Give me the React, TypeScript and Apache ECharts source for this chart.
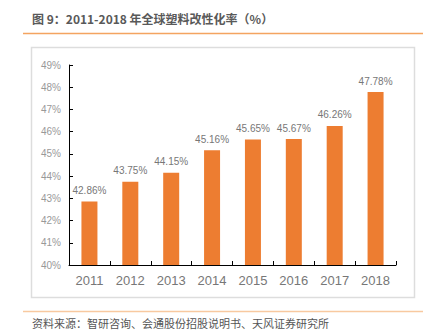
import React, { useEffect, useRef } from "react";
import * as echarts from "echarts";

const categories = ["2011", "2012", "2013", "2014", "2015", "2016", "2017", "2018"];
const values = [42.86, 43.75, 44.15, 45.16, 45.65, 45.67, 46.26, 47.78];
const titleText = "图 9：2011-2018 年全球塑料改性化率（%）";
const sourceText = "资料来源：智研咨询、会通股份招股说明书、天风证券研究所";

export default function App() {
  const ref = useRef<HTMLDivElement>(null);
  useEffect(() => {
    const chart = echarts.init(ref.current!, null, { renderer: "svg" });
    chart.setOption({
      animation: false,
      backgroundColor: "#fff",
      graphic: [
        { type: "text", left: 32, top: 12, style: { text: titleText, font: "bold 12px 'Noto Sans CJK SC', sans-serif", fill: "#595959" } },
        { type: "line", shape: { x1: 23, y1: 33.5, x2: 423, y2: 33.5 }, style: { stroke: "#F4A460", lineWidth: 1.5 } },
        { type: "rect", shape: { x: 31.5, y: 47.5, width: 383, height: 250 }, style: { fill: "none", stroke: "#ddd", lineWidth: 1.5 }, z: -1 },
        { type: "line", shape: { x1: 23, y1: 311.5, x2: 423, y2: 311.5 }, style: { stroke: "#F8C9A0", lineWidth: 1.5 } },
        { type: "text", left: 32, top: 317, style: { text: sourceText, font: "11px 'Noto Sans CJK SC', sans-serif", fill: "#555" } },
      ],
      grid: { left: 69, right: 35, top: 65, bottom: 68 },
      xAxis: {
        type: "category",
        data: categories,
        axisLine: { lineStyle: { color: "#000", width: 1 } },
        axisTick: { show: true, inside: true, length: 4, lineStyle: { color: "#000" } },
        axisLabel: { color: "#777", fontSize: 13, margin: 9, fontFamily: "Liberation Sans, Arial, sans-serif" },
      },
      yAxis: {
        type: "value",
        min: 40,
        max: 49,
        interval: 1,
        axisLine: { show: true, lineStyle: { color: "#000", width: 1 } },
        axisTick: { show: true, inside: true, length: 4, lineStyle: { color: "#000" } },
        splitLine: { show: false },
        axisLabel: { color: "#999", fontSize: 10, margin: 8, formatter: "{value}%", fontFamily: "Liberation Sans, Arial, sans-serif" },
      },
      series: [
        {
          type: "bar",
          data: values,
          barWidth: 16,
          itemStyle: { color: "#ED7D31" },
          label: {
            show: true,
            position: "top",
            distance: 6,
            color: "#777",
            fontSize: 10,
            fontFamily: "Liberation Sans, Arial, sans-serif",
            formatter: (p: any) => p.value.toFixed(2) + "%",
          },
        },
      ],
    });
    return () => chart.dispose();
  }, []);
  return <div ref={ref} style={{ position: "fixed", left: 0, top: 0, width: 431, height: 333 }} />;
}
